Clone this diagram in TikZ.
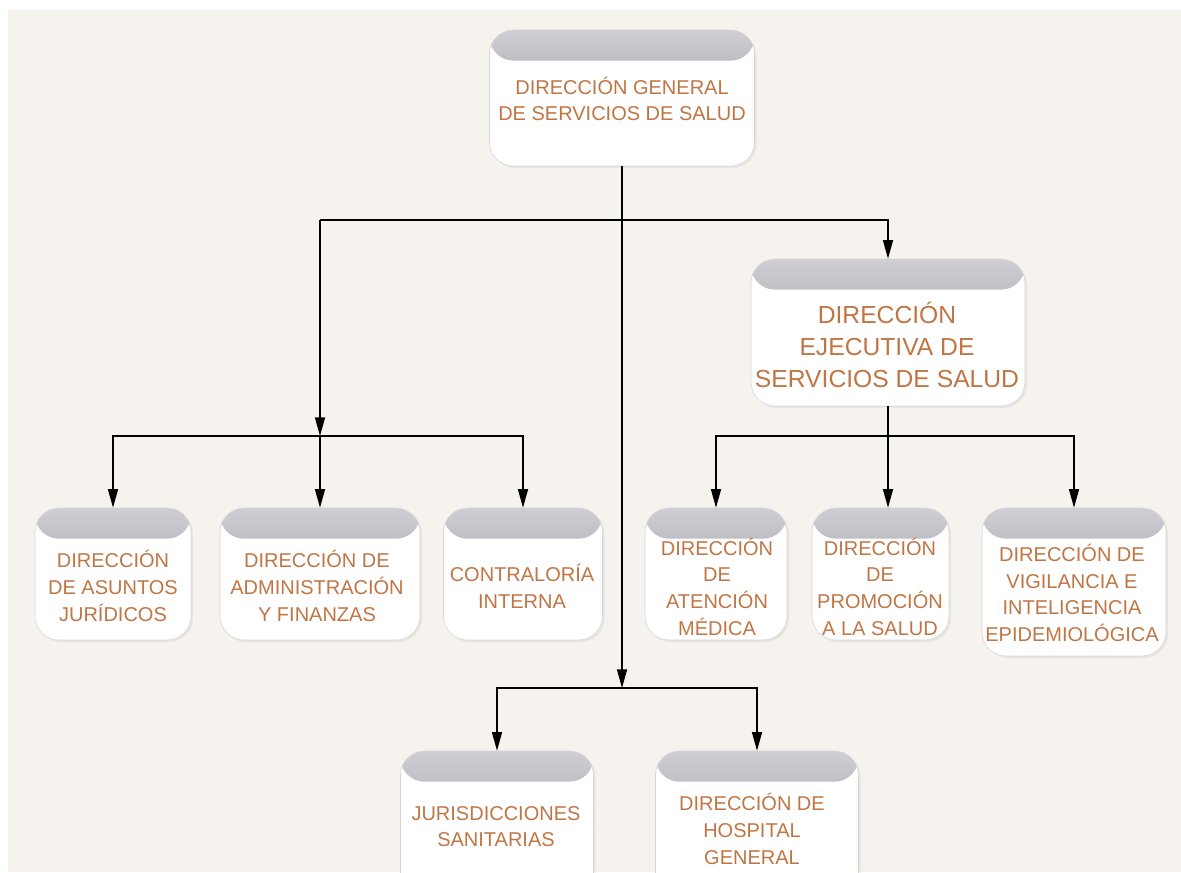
\documentclass[tikz,border=0pt]{standalone}
\usepackage{fontspec}
\setmainfont{Liberation Sans}
\usetikzlibrary{arrows.meta,shadows}
\definecolor{fondo}{RGB}{246,243,238}
\definecolor{texto}{RGB}{192,118,68}
\definecolor{cabeza1}{RGB}{206,206,211}
\definecolor{cabeza2}{RGB}{178,177,184}
\definecolor{cabeza3}{RGB}{140,138,148}
\definecolor{borde}{RGB}{214,214,218}

\begin{document}
\begin{tikzpicture}[x=0.75pt,y=-0.75pt,
  caja/.style n args={2}{draw=borde, fill=white, rounded corners=18pt, inner sep=0pt,
    minimum width=#1*0.75pt, minimum height=#2*0.75pt,
    drop shadow={opacity=0.12, shadow xshift=1.5pt, shadow yshift=-1.5pt},
    path picture={\shade[top color=cabeza1, middle color=cabeza2, bottom color=cabeza3]
      (path picture bounding box.north west) rectangle ([yshift=-23pt]path picture bounding box.north east);}},
  txt/.style={text=texto, align=center, inner sep=0pt, font=\fontsize{15}{20}\selectfont},
  linea/.style={line width=1.1pt},
  flecha/.style={linea, -{Triangle[length=14pt,width=7.5pt]}}]

% fondo
\useasboundingbox (0,0) rectangle (1181,872);
\fill[fondo] (8,10) rectangle (1181,872);

% direccion general
\node[caja={265}{136}] (dgss) at (622,98) {};
\node[txt] at (622,99) {DIRECCIÓN GENERAL\\DE SERVICIOS DE SALUD};

% direccion ejecutiva
\node[caja={274}{147}] (dess) at (888,332.5) {};
\node[txt, font=\fontsize{18.5}{24}\selectfont] at (887,345) {DIRECCIÓN\\EJECUTIVA DE\\SERVICIOS DE SALUD};

% rama izquierda
\node[caja={156}{132}] (daj) at (113,574) {};
\node[txt] at (113,586) {DIRECCIÓN\\DE ASUNTOS\\JURÍDICOS};
\node[caja={200}{132}] (daf) at (320,574) {};
\node[txt] at (317,586) {DIRECCIÓN DE\\ADMINISTRACIÓN\\Y FINANZAS};
\node[caja={159}{132}] (ci) at (523,574) {};
\node[txt] at (522,586.5) {CONTRALORÍA\\INTERNA};

% rama derecha
\node[caja={142}{132}] (dam) at (716,574) {};
\node[txt] at (717,586.5) {DIRECCIÓN\\DE\\ATENCIÓN\\MÉDICA};
\node[caja={137}{132}] (dps) at (880.5,574) {};
\node[txt] at (880,586.5) {DIRECCIÓN\\DE\\PROMOCIÓN\\A LA SALUD};
\node[caja={184}{148}] (dvie) at (1074,582) {};
\node[txt] at (1072,593) {DIRECCIÓN DE\\VIGILANCIA E\\INTELIGENCIA\\EPIDEMIOLÓGICA};

% rama central
\node[caja={193}{150}] (js) at (497,826) {};
\node[txt] at (496,826.5) {JURISDICCIONES\\SANITARIAS};
\node[caja={203}{150}] (dhg) at (757,826) {};
\node[txt] at (752,829) {DIRECCIÓN DE\\HOSPITAL\\GENERAL};

% conectores
\coordinate (nudo1) at (320,220);
\coordinate (nudo2) at (320,436);
\coordinate (nudo3) at (888,436);
\coordinate (nudo4) at (622,688);

\draw[flecha] (dgss.south) -- (nudo4);
\draw[flecha] (nudo1) -| (dess.north);
\draw[flecha] (nudo1) -- (nudo2);
\draw[flecha] (nudo2) -| (daj.north);
\draw[flecha] (nudo2) -- (daf.north);
\draw[flecha] (nudo2) -| (ci.north);
\draw[linea] (dess.south) -- (nudo3);
\draw[flecha] (nudo3) -| (dam.north);
\draw[flecha] (nudo3) -- (nudo3 |- dps.north);
\draw[flecha] (nudo3) -| (dvie.north);
\draw[flecha] (nudo4) -| (js.north);
\draw[flecha] (nudo4) -| (dhg.north);

\end{tikzpicture}
\end{document}
